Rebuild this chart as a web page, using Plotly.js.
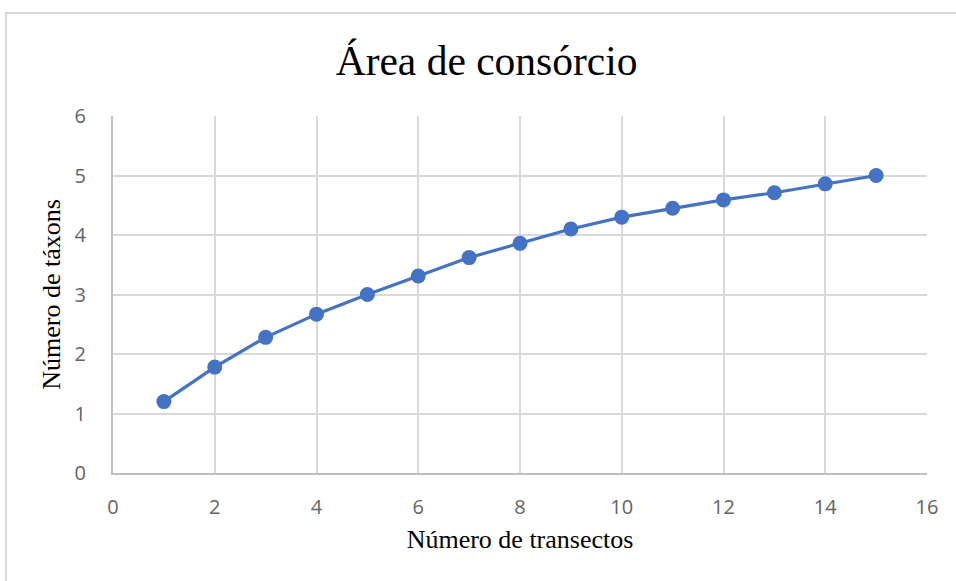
<!DOCTYPE html>
<html>
<head>
<meta charset="utf-8">
<script src="https://cdn.plot.ly/plotly-3.0.1.min.js"></script>
<style>
  html, body { margin: 0; padding: 0; overflow: hidden; background: #ffffff; }
  #frame { position: absolute; left: 5px; top: 12px; width: 2000px; height: 2000px;
           border-left: 2px solid #d9d9d9; border-top: 2px solid #d9d9d9; }
  #chart { position: absolute; left: 0; top: 0; width: 956px; height: 581px; }
</style>
</head>
<body>
<div id="frame"></div>
<div id="chart"></div>
<script>
const transects = [1, 2, 3, 4, 5, 6, 7, 8, 9, 10, 11, 12, 13, 14, 15];
const taxa = [1.2, 1.78, 2.28, 2.67, 3.0, 3.31, 3.62, 3.86, 4.1, 4.3, 4.45, 4.59, 4.71, 4.86, 5.0];
const xTicks = [0, 2, 4, 6, 8, 10, 12, 14, 16];
const yTicks = [0, 1, 2, 3, 4, 5, 6];

const serif = '"Liberation Serif", "Times New Roman", serif';
const sans = '"Open Sans", "Liberation Sans", Arial, sans-serif';

const trace = {
  x: transects,
  y: taxa,
  type: 'scatter',
  mode: 'lines+markers',
  line: { color: '#4472C4', width: 3.2 },
  marker: { color: '#4472C4', size: 15 },
  hoverinfo: 'x+y'
};

const layout = {
  width: 956,
  height: 581,
  margin: { l: 113, r: 29, t: 116, b: 108, pad: 0 },
  paper_bgcolor: 'rgba(0,0,0,0)',
  plot_bgcolor: 'rgba(0,0,0,0)',
  showlegend: false,
  title: {
    text: 'Área de consórcio',
    font: { family: serif, size: 41.5, color: '#000000' },
    xref: 'container', x: 0.509, xanchor: 'center',
    yref: 'container', y: 1 - 60 / 581, yanchor: 'middle'
  },
  xaxis: {
    range: [0, 16],
    tickvals: xTicks,
    ticktext: xTicks.map(String),
    showgrid: true, gridcolor: '#d9d9d9', gridwidth: 1.5,
    showline: true, linecolor: '#bfbfbf', linewidth: 2,
    zeroline: false,
    ticks: '',
    ticklabelstandoff: 15,
    tickfont: { family: sans, size: 20, color: '#646464' },
    title: { text: 'Número de transectos', font: { family: serif, size: 26, color: '#000000' }, standoff: 11 },
    fixedrange: true
  },
  yaxis: {
    range: [0, 6],
    tickvals: yTicks,
    ticktext: yTicks.map(String),
    showgrid: true, gridcolor: '#d9d9d9', gridwidth: 1.5,
    showline: true, linecolor: '#bfbfbf', linewidth: 2,
    zeroline: false,
    ticks: '',
    ticklabelstandoff: 21,
    tickfont: { family: sans, size: 20, color: '#646464' },
    title: { text: 'Número de táxons', font: { family: serif, size: 26, color: '#000000' }, standoff: 6 },
    fixedrange: true
  }
};

Plotly.newPlot('chart', [trace], layout, { displayModeBar: false, staticPlot: false });
</script>
</body>
</html>
